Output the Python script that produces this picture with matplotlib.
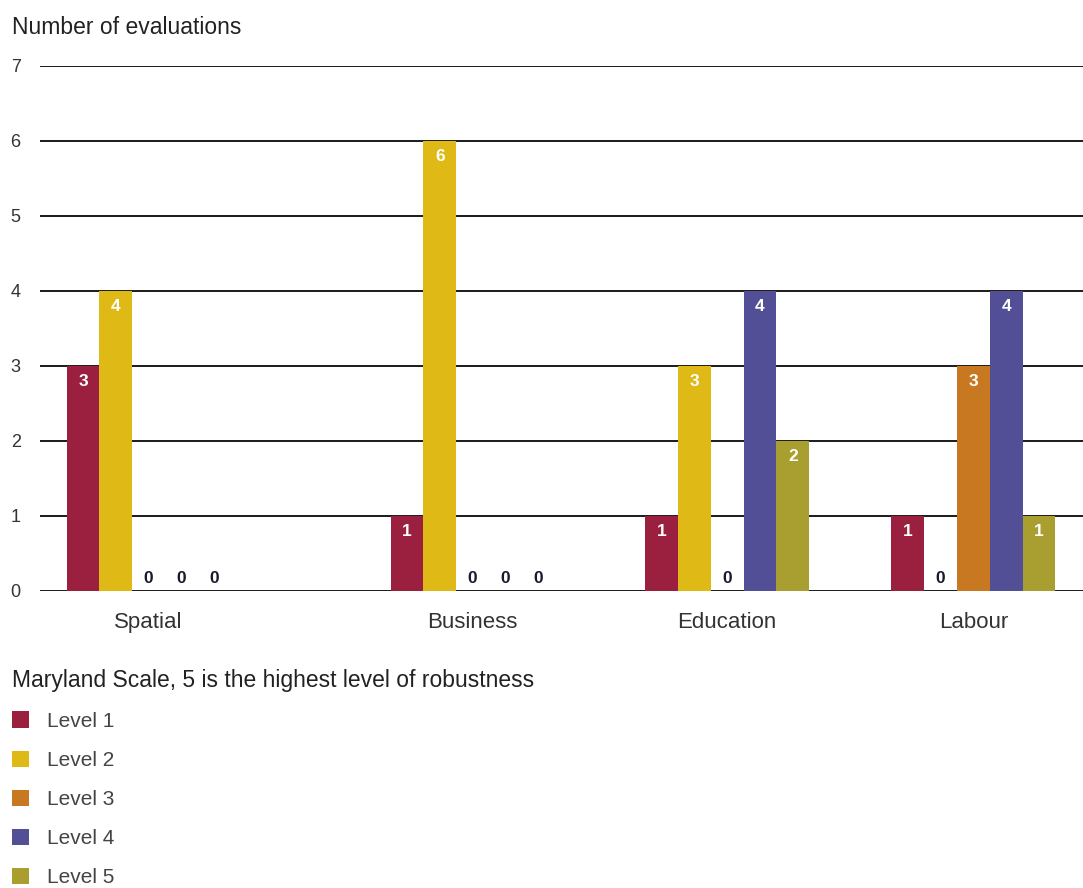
import matplotlib.pyplot as plt
import numpy as np
from matplotlib.patches import Patch

plt.rcParams['font.family'] = ['Liberation Sans', 'DejaVu Sans']

categories = ['Spatial', 'Business', 'Education', 'Labour']
levels = ['Level 1', 'Level 2', 'Level 3', 'Level 4', 'Level 5']
level_1 = [3, 1, 1, 1]
level_2 = [4, 6, 3, 0]
level_3 = [0, 0, 0, 3]
level_4 = [0, 0, 4, 4]
level_5 = [0, 0, 2, 1]
colors = ['#9b1f3e', '#dfb916', '#c87820', '#524f96', '#a89f30']

series = [level_1, level_2, level_3, level_4, level_5]
# group centres (bar units), uneven spacing as in the original
centres = np.array([3.31, 13.19, 20.95, 28.46])

fig = plt.figure(figsize=(10.83, 8.88), dpi=100)
ax = fig.add_axes([0.037, 0.3345, 0.963, 0.5912])

for i, vals in enumerate(series):
    xs = centres + (i - 2)
    ax.bar(xs, vals, width=1.0, color=colors[i], label=levels[i], zorder=3)
    for x, v in zip(xs, vals):
        if v > 0:
            ax.text(x, v - 0.21, str(v), ha='center', va='center', color='white',
                    fontsize=12.5, fontweight='bold', zorder=4)
        else:
            ax.text(x, 0.17, '0', ha='center', va='center', color='#1a1a2e',
                    fontsize=12.5, fontweight='bold', zorder=4)

ax.set_xlim(0, 31.8)
ax.set_ylim(0, 7)
ax.set_yticks(range(8))
ax.yaxis.grid(True, color='#1a1a1a', linewidth=1.4, zorder=1)
ax.tick_params(axis='y', length=0, pad=14, labelsize=13, labelcolor='#333333')
ax.tick_params(axis='x', length=0, pad=15, labelsize=16, labelcolor='#333333')
ax.set_xticks(centres)
ax.set_xticklabels(categories)
for s in ax.spines.values():
    s.set_visible(False)

fig.text(0.011, 0.969, 'Number of evaluations', fontsize=16.5, color='#222222',
         ha='left', va='center')

handles = [Patch(facecolor=c, label=l) for c, l in zip(colors, levels)]
leg = fig.legend(handles=handles, loc='upper left', bbox_to_anchor=(0.011, 0.247),
                 frameon=False, fontsize=15, title='Maryland Scale, 5 is the highest level of robustness',
                 title_fontsize=16.5, alignment='left', handlelength=0.82, handleheight=0.82,
                 labelspacing=0.95, handletextpad=0.85, borderpad=0, borderaxespad=0)
for t in leg.get_texts():
    t.set_color('#444444')
leg.get_title().set_color('#222222')

fig.savefig('out.png', dpi=100)
